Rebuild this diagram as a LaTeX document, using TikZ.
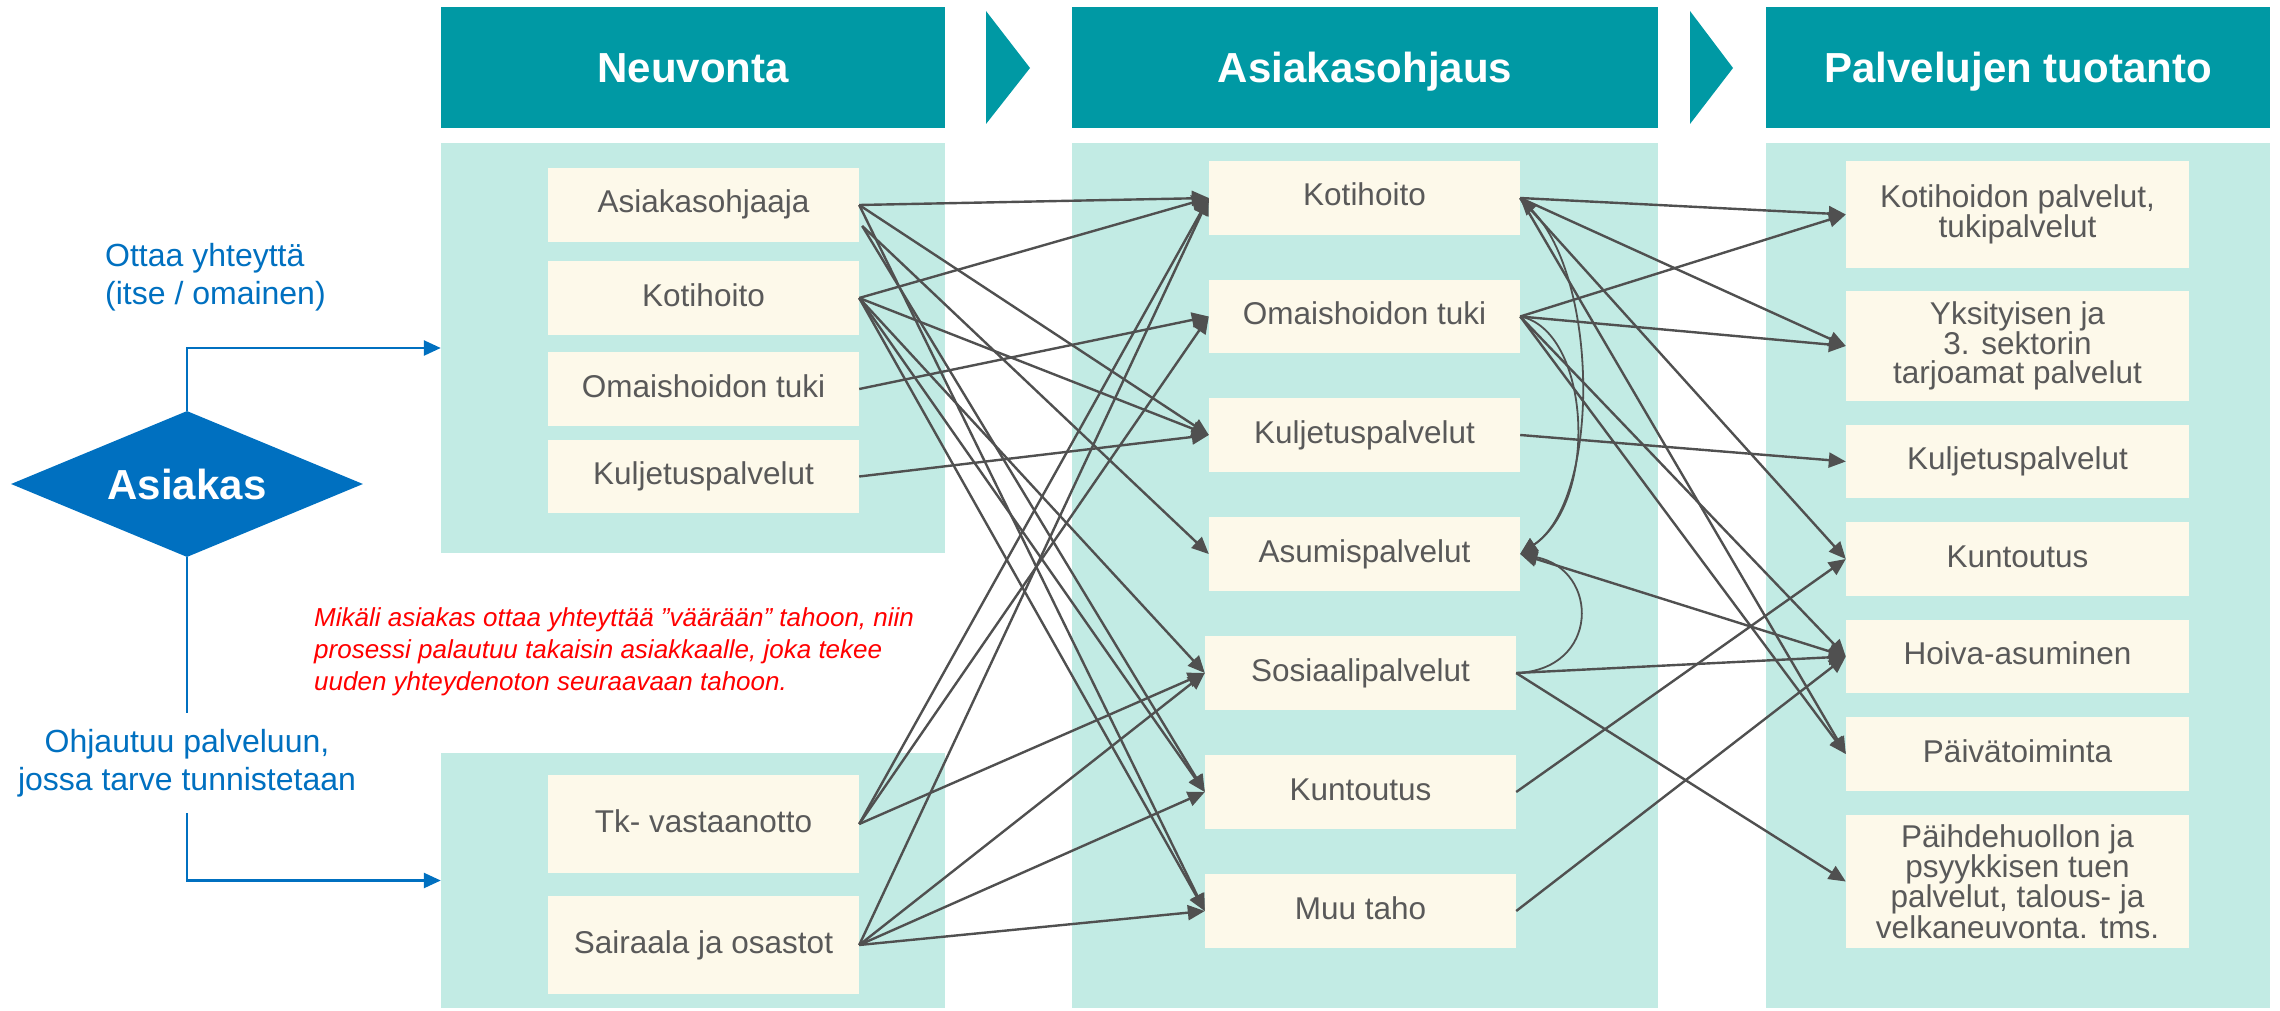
\documentclass[tikz,border=0pt]{standalone}
\usepackage{fontspec}
\setmainfont{Liberation Sans}
\usetikzlibrary{arrows.meta,shapes.geometric}

\definecolor{hdrteal}{HTML}{0099A4}
\definecolor{panelmint}{HTML}{C2EBE4}
\definecolor{boxcream}{HTML}{FDF9EA}
\definecolor{boxtext}{HTML}{595959}
\definecolor{linkgray}{HTML}{505050}
\definecolor{flowblue}{HTML}{0070C0}
\definecolor{noteRed}{HTML}{FF0000}

\begin{document}
\begin{tikzpicture}[x=1pt,y=-1pt,
  header/.style={fill=hdrteal, text=white, inner sep=0pt,
    font=\fontsize{42}{48}\selectfont\bfseries, text height=30pt, text depth=0pt},
  panel/.style={fill=panelmint, inner sep=0pt},
  itembase/.style={fill=boxcream, text=boxtext, inner sep=0pt, align=center,
    font=\fontsize{31.5}{29}\selectfont},
  item/.style={itembase, text height=23.5pt, text depth=7.5pt},
  tip/.tip={Triangle[length=17pt,width=15pt]},
  link/.style={draw=linkgray, line width=2.4pt, -tip},
  curvelink/.style={draw=linkgray, line width=1.8pt, -tip},
  flow/.style={draw=flowblue, line width=2.5pt, -{Triangle[length=17pt,width=15pt]}},
  flowline/.style={draw=flowblue, line width=2.5pt},
  bluetext/.style={text=flowblue, inner sep=0pt, font=\fontsize{32}{38}\selectfont}
]
\useasboundingbox (0,0) rectangle (2280,1011);

% column headers and the chevrons between them
\node[header, minimum width=504pt, minimum height=121pt] (h1) at (693,67.5) {Neuvonta};
\node[header, minimum width=586pt, minimum height=121pt] (h2) at (1365,67.5) {Asiakasohjaus};
\node[header, minimum width=504pt, minimum height=121pt] (h3) at (2018,67.5) {Palvelujen tuotanto};
\fill[hdrteal] (986,11) -- (986,124) -- (1030,68) -- cycle;
\fill[hdrteal] (1690,11) -- (1690,124) -- (1733,68) -- cycle;

% column backgrounds
\node[panel, minimum width=504pt, minimum height=410pt] (pTop) at (693,348) {};
\node[panel, minimum width=504pt, minimum height=255pt] (pBot) at (693,880.5) {};
\node[panel, minimum width=586pt, minimum height=865pt] (pMid) at (1365,575.5) {};
\node[panel, minimum width=504pt, minimum height=865pt] (pRight) at (2018,575.5) {};

% Neuvonta
\node[item, minimum width=311pt, minimum height=74pt] (asO) at (703.5,205) {Asiakasohjaaja};
\node[item, minimum width=311pt, minimum height=74pt] (kL) at (703.5,298) {Kotihoito};
\node[item, minimum width=311pt, minimum height=74pt] (oL) at (703.5,389) {Omaishoidon tuki};
\node[item, minimum width=311pt, minimum height=73pt] (kuL) at (703.5,476.5) {Kuljetuspalvelut};
\node[item, minimum width=311pt, minimum height=98pt] (tk) at (703.5,824) {Tk- vastaanotto};
\node[item, minimum width=311pt, minimum height=98pt] (sai) at (703.5,945) {Sairaala ja osastot};

% Asiakasohjaus
\node[item, minimum width=311pt, minimum height=74pt] (kM) at (1364.5,198) {Kotihoito};
\node[item, minimum width=311pt, minimum height=73pt] (oM) at (1364.5,316.5) {Omaishoidon tuki};
\node[item, minimum width=311pt, minimum height=74pt] (kuM) at (1364.5,435) {Kuljetuspalvelut};
\node[item, minimum width=311pt, minimum height=74pt] (asM) at (1364.5,554) {Asumispalvelut};
\node[item, minimum width=311pt, minimum height=74pt] (soM) at (1360.5,673) {Sosiaalipalvelut};
\node[item, minimum width=311pt, minimum height=74pt] (ktM) at (1360.5,792) {Kuntoutus};
\node[item, minimum width=311pt, minimum height=74pt] (muM) at (1360.5,911) {Muu taho};

% Palvelujen tuotanto
\node[itembase, minimum width=343pt, minimum height=107pt] (kp) at (2017.5,214.5) {Kotihoidon palvelut,\\tukipalvelut};
\node[itembase, minimum width=343pt, minimum height=110pt] (yks) at (2017.5,346) {Yksityisen ja\\3. sektorin\\tarjoamat palvelut};
\node[item, minimum width=343pt, minimum height=73pt] (kuR) at (2017.5,461.5) {Kuljetuspalvelut};
\node[item, minimum width=343pt, minimum height=74pt] (ktR) at (2017.5,559) {Kuntoutus};
\node[item, minimum width=343pt, minimum height=73pt] (hoR) at (2017.5,656.5) {Hoiva-asuminen};
\node[item, minimum width=343pt, minimum height=74pt] (paR) at (2017.5,754) {Päivätoiminta};
\node[itembase, minimum width=343pt, minimum height=133pt] (phR) at (2017.5,881.5) {Päihdehuollon ja\\psyykkisen tuen\\palvelut, talous- ja\\velkaneuvonta. tms.};

% client and the two ways in
\node[diamond, aspect=2.41, fill=flowblue, text=white, inner sep=0pt,
  minimum width=352pt, minimum height=146pt,
  font=\fontsize{42}{48}\selectfont\bfseries] (dia) at (187,484) {Asiakas};
\node[bluetext, anchor=west, align=left] (otta) at (105,277) {Ottaa yhteyttä\\(itse / omainen)};
\node[bluetext, align=center, inner ysep=16pt] (ohj) at (187,763) {Ohjautuu palveluun,\\jossa tarve tunnistetaan};
\draw[flow] (dia.north) |- (pTop.west);
\draw[flowline] (dia.south) -- (ohj.north);
\draw[flow] (ohj.south) |- (pBot.west);

\node[anchor=west, align=left, inner sep=0pt, text=noteRed,
  font=\fontsize{26}{32}\selectfont\itshape] (note) at (314,652)
  {Mikäli asiakas ottaa yhteyttää ”väärään” tahoon, niin\\prosessi palautuu takaisin asiakkaalle, joka tekee\\uuden yhteydenoton seuraavaan tahoon.};

% Neuvonta -> Asiakasohjaus
\coordinate (asO2) at ([xshift=3pt,yshift=-21pt]asO.east);
\draw[link] (asO.east) -- (kM.west);
\draw[link] (asO.east) -- (kuM.west);
\draw[link] (asO.east) -- (muM.west);
\draw[link] (asO2) -- (asM.west);
\draw[link] (asO2) -- (ktM.west);
\draw[link] (kL.east) -- (kM.west);
\draw[link] (kL.east) -- (kuM.west);
\draw[link] (kL.east) -- (soM.west);
\draw[link] (kL.east) -- (ktM.west);
\draw[link] (kL.east) -- (muM.west);
\draw[link] (oL.east) -- (oM.west);
\draw[link] (kuL.east) -- (kuM.west);
\draw[link] (tk.east) -- (kM.west);
\draw[link] (tk.east) -- (oM.west);
\draw[link] (tk.east) -- (soM.west);
\draw[link] (sai.east) -- (kM.west);
\draw[link] (sai.east) -- (soM.west);
\draw[link] (sai.east) -- (ktM.west);
\draw[link] (sai.east) -- (muM.west);

% Asiakasohjaus -> Palvelujen tuotanto
\draw[link] (kM.east) -- (kp.west);
\draw[link] (kM.east) -- (yks.west);
\draw[link] (kM.east) -- (ktR.west);
\draw[link] (kM.east) -- (paR.west);
\draw[link] (oM.east) -- (kp.west);
\draw[link] (oM.east) -- (yks.west);
\draw[link] (oM.east) -- (hoR.west);
\draw[link] (oM.east) -- (paR.west);
\draw[link] (kuM.east) -- (kuR.west);
\draw[link] (soM.east) -- (hoR.west);
\draw[link] (soM.east) -- (phR.west);
\draw[link] (ktM.east) -- (ktR.west);
\draw[link] (muM.east) -- (hoR.west);
\draw[link, tip-tip] (asM.east) -- (hoR.west);

% loops back to Asumispalvelut
\draw[curvelink, tip-tip] (kM.east) .. controls (1600,280) and (1600,500) .. (asM.east);
\draw[curvelink] (oM.east) .. controls (1590,330) and (1600,500) .. (asM.east);
\draw[curvelink] (soM.east) .. controls (1600,670) and (1600,570) .. (asM.east);
\end{tikzpicture}
\end{document}
